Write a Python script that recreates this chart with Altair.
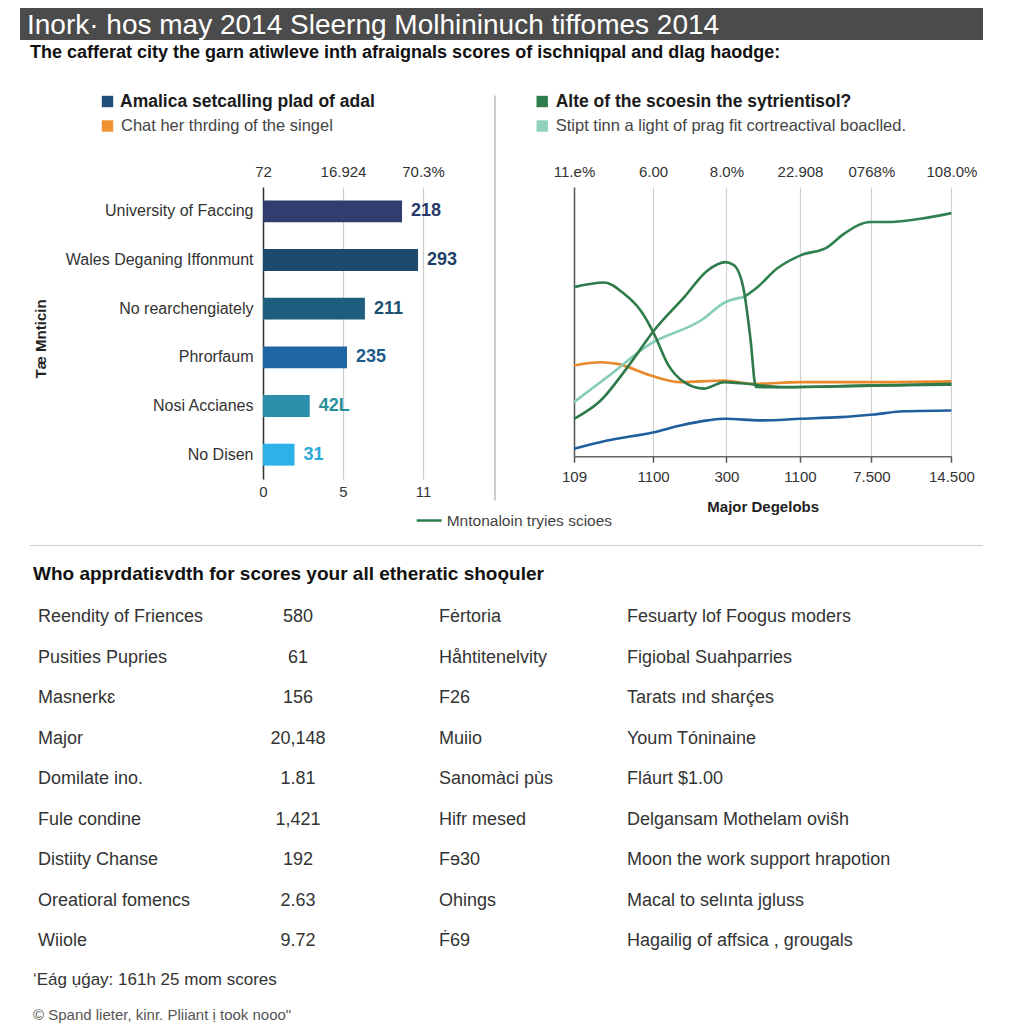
import altair as alt
import pandas as pd

# ---------------- data ----------------
TITLE = "Inork· hos may 2014 Sleerng Molhininuch tiffomes 2014"
SUBTITLE = "The cafferat city the garn atiwleve inth afraignals scores of ischniqpal and dlag haodge:"

LEFT_LEGEND_LABELS = ["Amalica setcalling plad of adal", "Chat her thrding of the singel"]
LEFT_LEGEND_COLORS = ["#1f4e79", "#f0922e"]
RIGHT_LEGEND_LABELS = ["Alte of the scoesin the sytrientisol?",
                       "Stipt tinn a light of prag fit cortreactival boaclled."]
RIGHT_LEGEND_COLORS = ["#2e7d4f", "#8fd1bb"]

BAR_CATEGORIES = ["University of Faccing", "Wales Deganing Iffonmunt", "No rearchengiately",
                  "Phrorfaum", "Nosi Accianes", "No Disen"]
BAR_VALUES = [8.69, 9.69, 6.37, 5.25, 2.92, 1.97]
BAR_VALUE_LABELS = ["218", "293", "211", "235", "42L", "31"]
BAR_COLORS = ["#2f3e6f", "#1c4a6e", "#1f5d7f", "#1f67a2", "#2a90ab", "#2cb2e7"]
BAR_LABEL_COLORS = ["#26396a", "#1c3f66", "#1d4f70", "#1f5a8c", "#2a8f98", "#2aa9d9"]
BAR_AXIS_TITLE = "Tæ Mnticin"
BAR_TICK_VALUES = [0, 5, 10]
BAR_TOP_TICK_LABELS = ["72", "16.924", "70.3%"]
BAR_BOTTOM_TICK_LABELS = ["0", "5", "11"]
BAR_LINE_LEGEND = "Mntonaloin tryies scioes"

LINE_TICK_VALUES = [0, 1.047, 2.019, 2.994, 3.94, 5.0]
LINE_TOP_TICK_LABELS = ["11.e%", "6.00", "8.0%", "22.908", "0768%", "108.0%"]
LINE_BOTTOM_TICK_LABELS = ["109", "1100", "300", "1100", "7.500", "14.500"]
LINE_X_TITLE = "Major Degelobs"

BLUE_X = [0, 0.44, 1.06, 1.41, 1.77, 2.01, 2.47, 3.0, 3.53, 3.97, 4.37, 5.0]
BLUE_Y = [2.75, 5.8, 8.9, 11.4, 13.3, 13.9, 13.3, 13.9, 14.5, 15.5, 16.7, 17.0]
ORANGE_X = [0, 0.354, 0.575, 1.016, 1.41, 1.99, 2.385, 3.0, 3.97, 5.0]
ORANGE_Y = [33.7, 34.9, 34.3, 30.0, 27.5, 28.1, 26.9, 27.5, 27.5, 27.8]
TEAL_X = [0, 0.44, 1.016, 1.68, 2.01, 2.25]
TEAL_Y = [20.1, 29.4, 41.8, 50.4, 57.3, 59.1]
GREEN_A_X = [0, 0.40, 0.66, 0.88, 1.06, 1.24, 1.46, 1.72, 1.99, 2.21, 2.74, 5.0]
GREEN_A_Y = [62.8, 64.5, 60.4, 54.2, 45.5, 34.3, 27.5, 25.1, 27.5, 27.1, 25.7, 26.9]
GREEN_B_X = [0, 0.354, 0.71, 1.06, 1.46, 1.77, 2.01, 2.12, 2.25, 2.34, 2.41, 2.74, 3.97, 5.0]
GREEN_B_Y = [13.9, 20.7, 33.1, 46.7, 59.1, 69.0, 72.1, 70.9, 61.6, 43.0, 25.7, 25.6, 26.3, 26.6]
GREEN_C_X = [2.25, 2.43, 2.69, 3.0, 3.36, 3.58, 3.93, 4.2, 4.59, 5.0]
GREEN_C_Y = [59.1, 62.8, 69.7, 74.6, 77.7, 82.7, 87.0, 87.0, 88.2, 90.3]
SERIES_NAMES = ["Blue", "Orange", "Teal", "Green A", "Green B", "Green C"]
SERIES_COLORS = ["#1f5f9e", "#e8892b", "#86cdb5", "#2e7a4a", "#2e7a4a", "#2f8250"]

TABLE_HEADING = "Who apprdatiɛvdth for scores your all etheratic shoǫuler"
TABLE_COL1 = ["Reendity of Friences", "Pusities Pupries", "Masnerkɛ", "Major", "Domilate ino.",
              "Fule condine", "Distiity Chanse", "Oreatioral fomencs", "Wiiole"]
TABLE_COL2 = ["580", "61", "156", "20,148", "1.81", "1,421", "192", "2.63", "9.72"]
TABLE_COL3 = ["Fėrtoria", "Håhtitenelvity", "F26", "Muiio", "Sanomàci pùs", "Hifr mesed",
              "Fɘ30", "Ohings", "Ḟ69"]
TABLE_COL4 = ["Fesuarty lof Foogus moders", "Figiobal Suahparries", "Tarats ınd sharḉes",
              "Youm Tóninaine", "Fláurt $1.00", "Delgansam Mothelam oviŝh",
              "Moon the work support hrapotion", "Macal to selınta jgluss",
              "Hagailig of affsica , grougals"]

FOOTER_LINES = ["‘Eág ụǵay: 161h 25 mom scores", '© Spand lieter, kinr. Pliiant ị took nooo"']

FONT = "Liberation Sans"


def idx_expr(labels, step):
    arr = ",".join("'" + s + "'" for s in labels)
    return "[" + arr + "][round(datum.value / " + str(step) + ")]"


def legend_item(label, color, x_sq, x_txt, y, bold):
    df = pd.DataFrame({"label": [label]})
    sq = alt.Chart(df).mark_square(size=130, color=color, opacity=1).encode(
        x=alt.value(x_sq), y=alt.value(y))
    tx = alt.Chart(df).mark_text(
        align="left", baseline="middle",
        fontSize=17.5 if bold else 16.5,
        fontWeight="bold" if bold else "normal",
        color="#1a1a1a" if bold else "#444444").encode(
        x=alt.value(x_txt), y=alt.value(y), text="label:N")
    return [sq, tx]


def spacer(w, h):
    return alt.Chart(pd.DataFrame({"v": [0]})).mark_rule(opacity=0).encode(
        x=alt.value(1), y=alt.value(1), y2=alt.value(2)).properties(width=w, height=h)


# ---------------- header rows ----------------
header = alt.Chart(pd.DataFrame({"t": [TITLE]})).mark_text(
    align="left", baseline="alphabetic", fontSize=28, color="#ffffff").encode(
    x=alt.value(7), y=alt.value(26), text="t:N"
).properties(width=963, height=32,
             view=alt.ViewBackground(fill="#4b4b4b", stroke="transparent", strokeWidth=0))

subtitle = alt.Chart(pd.DataFrame({"t": [SUBTITLE]})).mark_text(
    align="left", baseline="middle", fontSize=18, fontWeight="bold", color="#111111").encode(
    x=alt.value(10), y=alt.value(13), text="t:N"
).properties(width=963, height=50)

# ---------------- bar chart ----------------
bar_df = pd.DataFrame({"cat": BAR_CATEGORIES, "value": BAR_VALUES, "label": BAR_VALUE_LABELS})
x_bar_scale = alt.Scale(domain=[0, 14.5], nice=False, zero=True)
y_bar = alt.Y("cat:N", sort=BAR_CATEGORIES,
              scale=alt.Scale(paddingInner=0.55, paddingOuter=0.275),
              axis=alt.Axis(title=BAR_AXIS_TITLE, titleFontSize=15, titleFontWeight="bold",
                            titleColor="#222222", titleAngle=270, titleX=-223, titleY=151.5,
                            titleBaseline="middle", titleAlign="center",
                            labelFontSize=16, labelColor="#333333", labelPadding=10,
                            labelLimit=400, ticks=False, domain=True,
                            domainColor="#333333", domainWidth=1.5))

bars = alt.Chart(bar_df).mark_bar().encode(
    x=alt.X("value:Q", scale=x_bar_scale,
            axis=alt.Axis(orient="bottom", values=BAR_TICK_VALUES,
                          labelExpr=idx_expr(BAR_BOTTOM_TICK_LABELS, 5),
                          grid=True, gridColor="#cccccc", gridWidth=1.2, domain=False,
                          ticks=False, labelFontSize=15, labelColor="#333333", labelPadding=5,
                          labelFlush=False, labelOverlap=False, title=None)),
    y=y_bar,
    color=alt.Color("cat:N", scale=alt.Scale(domain=BAR_CATEGORIES, range=BAR_COLORS), legend=None),
)
bar_labels = alt.Chart(bar_df).mark_text(
    align="left", baseline="middle", dx=9, fontSize=18, fontWeight="bold").encode(
    x=alt.X("value:Q", scale=x_bar_scale,
            axis=alt.Axis(orient="top", values=BAR_TICK_VALUES,
                          labelExpr=idx_expr(BAR_TOP_TICK_LABELS, 5),
                          grid=False, domain=False, ticks=False, labelFontSize=15,
                          labelColor="#333333", labelPadding=8, labelFlush=False,
                          labelOverlap=False, title=None)),
    y=y_bar,
    text="label:N",
    color=alt.Color("cat:N", scale=alt.Scale(domain=BAR_CATEGORIES, range=BAR_LABEL_COLORS),
                    legend=None),
)
one = pd.DataFrame({"v": [0]})
vsep = alt.Chart(one).mark_rule(color="#bbbbbb", strokeWidth=1.5).encode(
    x=alt.value(232), y=alt.value(-91.5), y2=alt.value(313.5))
line_leg_df = pd.DataFrame({"label": [BAR_LINE_LEGEND]})
line_leg_rule = alt.Chart(line_leg_df).mark_rule(color="#2e7d4f", strokeWidth=2.5).encode(
    x=alt.value(153.7), x2=alt.value(178.7), y=alt.value(333.5))
line_leg_text = alt.Chart(line_leg_df).mark_text(
    align="left", baseline="middle", fontSize=15.5, color="#444444").encode(
    x=alt.value(183.7), y=alt.value(333.5), text="label:N")

left_legend = (legend_item(LEFT_LEGEND_LABELS[0], LEFT_LEGEND_COLORS[0], -155.5, -143, -85.5, True)
               + legend_item(LEFT_LEGEND_LABELS[1], LEFT_LEGEND_COLORS[1], -155.5, -142, -61, False))

bar_chart = alt.layer(bars, bar_labels, vsep, line_leg_rule, line_leg_text, *left_legend).resolve_scale(
    color="independent").resolve_axis(x="independent").properties(width=232, height=292)

# ---------------- line chart ----------------
rows = []
for name, xs, ys in [("Blue", BLUE_X, BLUE_Y), ("Orange", ORANGE_X, ORANGE_Y), ("Teal", TEAL_X, TEAL_Y),
                     ("Green A", GREEN_A_X, GREEN_A_Y), ("Green B", GREEN_B_X, GREEN_B_Y),
                     ("Green C", GREEN_C_X, GREEN_C_Y)]:
    for xv, yv in zip(xs, ys):
        rows.append({"series": name, "x": xv, "y": yv})
line_df = pd.DataFrame(rows)

x_line_scale = alt.Scale(domain=[0, 5], nice=False, zero=False)
y_line = alt.Y("y:Q", scale=alt.Scale(domain=[0, 100], nice=False),
               axis=alt.Axis(labels=False, ticks=False, grid=False, title=None,
                             domainColor="#555555", domainWidth=1.5))
lines = alt.Chart(line_df).mark_line(interpolate="monotone", strokeWidth=2.6).encode(
    x=alt.X("x:Q", scale=x_line_scale,
            axis=alt.Axis(orient="bottom", values=LINE_TICK_VALUES,
                          labelExpr=idx_expr(LINE_BOTTOM_TICK_LABELS, 1),
                          grid=True, gridColor="#cfcfcf", gridWidth=1.2,
                          domainColor="#666666", domainWidth=1.5, ticks=True, tickColor="#555555",
                          tickSize=6, tickWidth=1.5, labelFontSize=15, labelColor="#333333",
                          labelPadding=7, labelFlush=False, labelOverlap=False,
                          title=LINE_X_TITLE, titleFontSize=15, titleFontWeight="bold",
                          titleColor="#222222", titlePadding=15)),
    y=y_line,
    color=alt.Color("series:N", scale=alt.Scale(domain=SERIES_NAMES, range=SERIES_COLORS), legend=None),
)
top_axis = alt.Chart(line_df).mark_point(opacity=0).encode(
    x=alt.X("x:Q", scale=x_line_scale,
            axis=alt.Axis(orient="top", values=LINE_TICK_VALUES,
                          labelExpr=idx_expr(LINE_TOP_TICK_LABELS, 1),
                          grid=False, domain=False, ticks=False, labelFontSize=15,
                          labelColor="#333333", labelPadding=8, labelFlush=False,
                          labelOverlap=False, title=None)),
    y=y_line,
)
right_legend = (legend_item(RIGHT_LEGEND_LABELS[0], RIGHT_LEGEND_COLORS[0], -31.8, -18.3, -85.5, True)
                + legend_item(RIGHT_LEGEND_LABELS[1], RIGHT_LEGEND_COLORS[1], -31.8, -18.3, -61, False))

line_chart = alt.layer(lines, top_axis, *right_legend).resolve_axis(
    x="independent").properties(width=377.4, height=269.2)

# ---------------- left gutter of the panel row (bounds, separator, heading) ----------------
bound_rule = alt.Chart(one).mark_rule(opacity=0).encode(
    x=alt.value(1), y=alt.value(-96.5), y2=alt.value(409.25))
hsep = alt.Chart(one).mark_rule(color="#cccccc", strokeWidth=1.2).encode(
    x=alt.value(10), x2=alt.value(963), y=alt.value(358.5))
heading = alt.Chart(pd.DataFrame({"t": [TABLE_HEADING]})).mark_text(
    align="left", baseline="middle", fontSize=19, fontWeight="bold", color="#111111").encode(
    x=alt.value(13), y=alt.value(386.5), text="t:N")
gutter = alt.layer(bound_rule, hsep, heading).properties(width=243, height=292)

panels = alt.hconcat(gutter, bar_chart, spacer(78.3, 292), line_chart, spacer(12.3, 292),
                     spacing=0, bounds="flush")

# ---------------- table ----------------
table_df = pd.DataFrame({"row": list(range(len(TABLE_COL1))), "c1": TABLE_COL1, "c2": TABLE_COL2,
                         "c3": TABLE_COL3, "c4": TABLE_COL4})
tbase = alt.Chart(table_df).encode(y=alt.Y("row:O", axis=None))
t1 = tbase.mark_text(align="left", baseline="middle", fontSize=18, color="#333333").encode(
    x=alt.value(18), text="c1:N")
t2 = tbase.mark_text(align="center", baseline="middle", fontSize=18, color="#333333").encode(
    x=alt.value(278), text="c2:N")
t3 = tbase.mark_text(align="left", baseline="middle", fontSize=18, color="#333333").encode(
    x=alt.value(419), text="c3:N")
t4 = tbase.mark_text(align="left", baseline="middle", fontSize=18, color="#333333").encode(
    x=alt.value(607), text="c4:N")
table = alt.layer(t1, t2, t3, t4).properties(width=963, height=364.5)

# ---------------- footer ----------------
footer_df = pd.DataFrame({"row": [0, 1], "t": FOOTER_LINES})
fbase = alt.Chart(footer_df).encode(y=alt.Y("row:O", axis=None))
f1 = fbase.transform_filter("datum.row == 0").mark_text(
    align="left", baseline="middle", fontSize=17, color="#333333").encode(x=alt.value(13), text="t:N")
f2 = fbase.transform_filter("datum.row == 1").mark_text(
    align="left", baseline="middle", fontSize=15, color="#555555").encode(x=alt.value(13), text="t:N")
footer = alt.layer(f1, f2).properties(width=963, height=70)

chart = alt.vconcat(header, subtitle, panels, table, footer, spacing=0).properties(
    padding={"left": 12, "top": 0, "right": 0, "bottom": 0}
).configure(font=FONT, view=alt.ViewConfig(stroke="transparent", strokeWidth=0))

chart.save("out.html", embed_options={"renderer": "svg", "actions": False})
